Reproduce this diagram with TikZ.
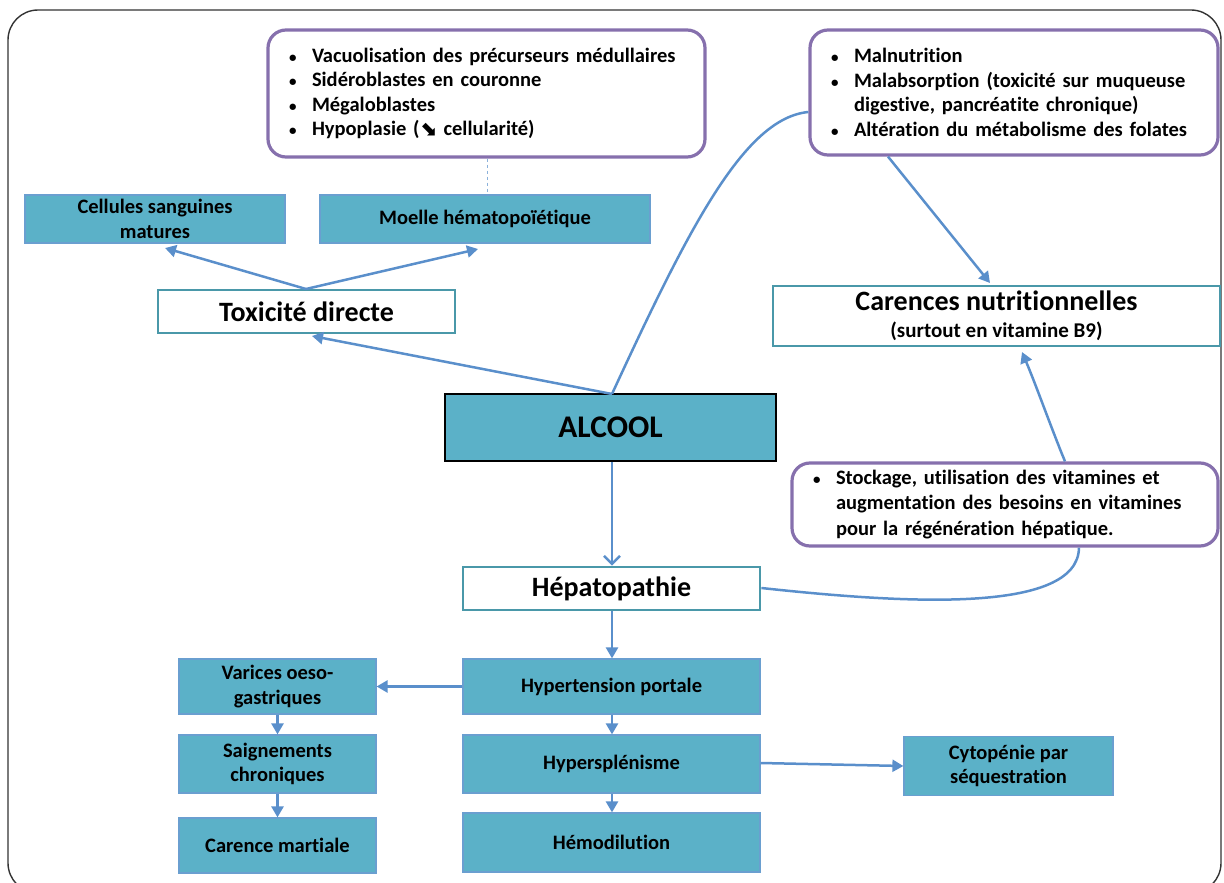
\documentclass[tikz,border=0pt]{standalone}
\usepackage{fontspec}
\setmainfont{Carlito}[Ligatures={NoCommon}]
\newfontfamily\symfont{DejaVu Sans}
\usetikzlibrary{arrows.meta}
\definecolor{tealfill}{HTML}{5BB1C8}
\definecolor{tealedge}{HTML}{6A9FD0}
\definecolor{wedge}{HTML}{4A98A9}
\definecolor{purp}{HTML}{8670AD}
\definecolor{arrowc}{HTML}{5A8FCB}
\definecolor{frame}{HTML}{333333}
\newcommand{\bl}{\makebox[23pt][l]{{\fontsize{15}{15}\selectfont •}}}
\newcommand{\ind}{\hspace*{23pt}}
\tikzset{
  base/.style={inner sep=0pt, align=center, font=\bfseries\fontsize{20.5}{24.5}\selectfont},
  tbox/.style={base, draw=tealedge, fill=tealfill, line width=1.2pt},
  wbox/.style={base, draw=wedge, fill=white, line width=2.8pt},
  pbox/.style={base, align=left, draw=purp, line width=3.2pt, rounded corners=18pt, fill=white, inner xsep=21pt},
  arr/.style={draw=arrowc, line width=2.5pt, -{Triangle[length=11pt,width=12pt]}},
  link/.style={draw=arrowc, line width=2.5pt},
}
\begin{document}
\begin{tikzpicture}[x=1pt,y=-1pt]
\useasboundingbox (0,0) rectangle (1224,883);
\begin{scope}
\clip (0,0) rectangle (1224,883);
\draw[frame, line width=1.4pt, rounded corners=30pt] (8,10) rectangle (1221,893);
\end{scope}

% purple boxes
\node[pbox, minimum width=437, minimum height=127, text width=395] (pv) at (486.5,93.5)
 {\bl Vacuolisation des précurseurs médullaires\\
  \bl Sidéroblastes en couronne\\
  \bl Mégaloblastes\\
  \bl Hypoplasie ({\symfont\bfseries ⬊} cellularité)};
\node[pbox, minimum width=408, minimum height=125, text width=366] (pm) at (1014,92.5)
 {\bl Malnutrition\\
  \bl Malabsorption (toxicité sur muqueuse\\
  \ind digestive, pancréatite chronique)\\
  \bl Altération du métabolisme des folates};
\node[pbox, minimum width=426, minimum height=83, text width=384, font=\bfseries\fontsize{20.5}{25.5}\selectfont] (st) at (1005,504.5)
 {\bl Stockage, utilisation des vitamines et\\
  \ind augmentation des besoins en vitamines\\
  \ind pour la régénération hépatique.};

% top boxes
\node[tbox, minimum width=260, minimum height=48] (cell) at (155,219) {Cellules sanguines\\matures};
\node[tbox, minimum width=330, minimum height=48] (moe) at (485,219) {Moelle hématopoïétique};
\node[wbox, minimum width=297, minimum height=43, font=\bfseries\fontsize{28}{30}\selectfont] (tox) at (306.5,311.5) {Toxicité directe};
\node[wbox, minimum width=447, minimum height=60] (car) at (996.5,316)
 {{\fontsize{28}{30}\selectfont Carences nutritionnelles}\\[2pt]
  {\fontsize{21}{24}\selectfont (surtout en vitamine B9)}};
\node[tbox, draw=black, line width=2pt, minimum width=331, minimum height=67, font=\bfseries\fontsize{31.5}{34}\selectfont] (alc) at (610.5,427.5) {ALCOOL};
\node[wbox, minimum width=297, minimum height=43, font=\bfseries\fontsize{28}{30}\selectfont] (hep) at (611.5,588.5) {Hépatopathie};

% bottom boxes
\node[tbox, minimum width=297, minimum height=55] (hyp) at (611.5,686.5) {Hypertension portale};
\node[tbox, minimum width=297, minimum height=58] (spl) at (611.5,764) {Hypersplénisme};
\node[tbox, minimum width=297, minimum height=59] (hemo) at (611.5,842.5) {Hémodilution};
\node[tbox, minimum width=197, minimum height=55] (var) at (277.5,686.5) {Varices oeso-\\gastriques};
\node[tbox, minimum width=197, minimum height=58] (sai) at (277.5,764) {Saignements\\chroniques};
\node[tbox, minimum width=197, minimum height=55] (cm) at (277.5,845.5) {Carence martiale};
\node[tbox, minimum width=209, minimum height=59] (cyt) at (1008.5,766) {Cytopénie par\\séquestration};

% connectors
\coordinate (toxtop) at (306,289);
\draw[arr] (toxtop) -- (165,248);
\draw[arr] (toxtop) -- (478,249);
\draw[draw=arrowc!70, line width=0.9pt, dash pattern=on 3pt off 3pt] (pv.south -| 487,0) -- (moe.north -| 487,0);
\coordinate (alctop) at (612,394);
\draw[arr] (alctop) -- (312,336);
\draw[link] (alctop) .. controls (690,225) and (745,118) .. (pm.west |- 0,112);
\draw[arr] (pm.south -| 888,0) -- (990,283);
\draw[arr] (st.north -| 1065,0) .. controls (1052,430) and (1036,385) .. (1022,352);
\draw[link] (hep.east |- 0,588) .. controls (900,603) and (1078,615) .. (st.south -| 1079,0);
\draw[draw=arrowc, line width=2.5pt, -{Straight Barb[length=8pt,width=16pt,line width=2.5pt]}] (alc.south -| 612,0) -- (hep.north -| 612,0);
\draw[arr] (hep.south -| 612,0) -- (hyp.north -| 612,0);
\draw[arr] (hyp.west) -- (var.east);
\draw[arr] (hyp.south -| 612,0) -- (spl.north -| 612,0);
\draw[arr] (spl.south -| 612,0) -- (hemo.north -| 612,0);
\draw[arr] (spl.east |- 0,763) -- (cyt.west |- 0,766);
\draw[arr] (var.south) -- (sai.north);
\draw[arr] (sai.south) -- (cm.north);
\end{tikzpicture}
\end{document}
